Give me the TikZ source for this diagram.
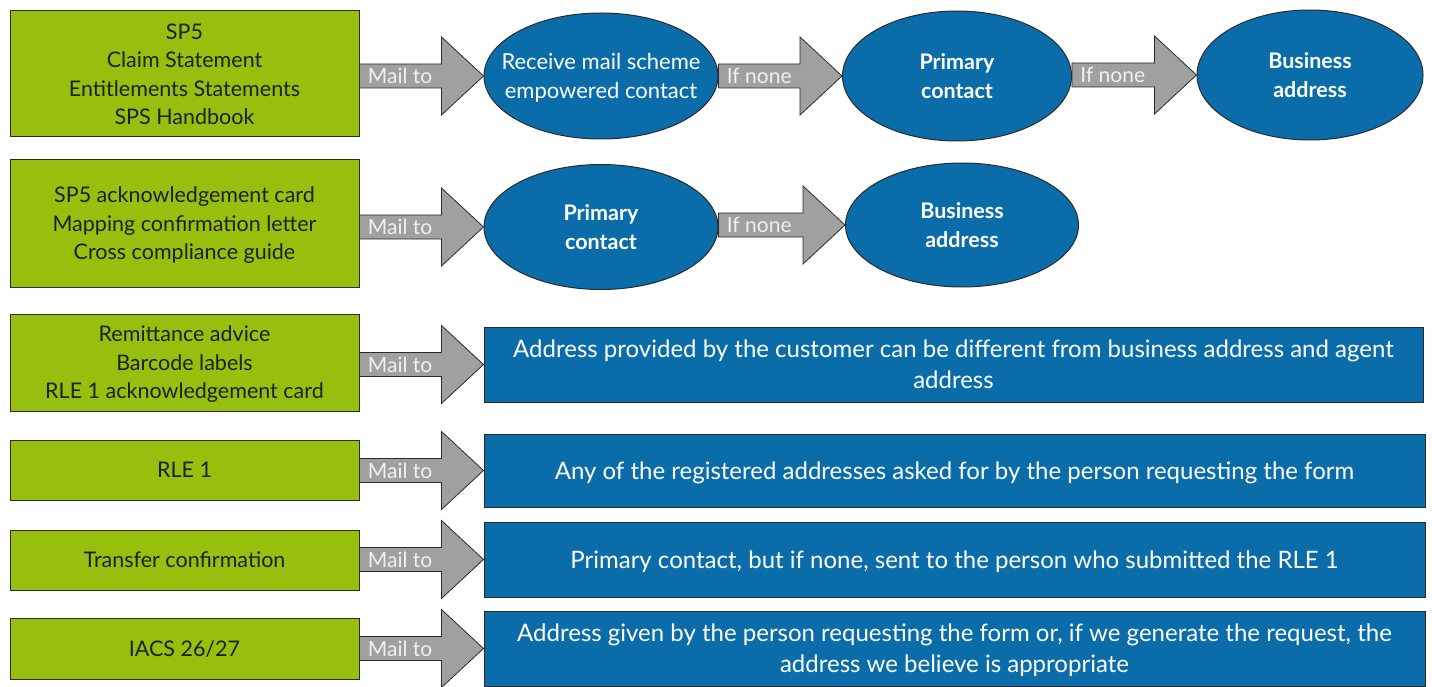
\documentclass[tikz,border=0pt]{standalone}
\usepackage{fontspec}
\setmainfont{Lato}
\usetikzlibrary{shapes.geometric,calc}
\definecolor{leaf}{HTML}{97BF0D}
\definecolor{sea}{HTML}{0A6DA9}
\definecolor{pipe}{HTML}{A0A0A1}
\definecolor{rim}{HTML}{2B2B2B}

\tikzset{
  docbox/.style={draw=rim, fill=leaf, line width=1pt, inner sep=0pt,
    minimum width=349pt, align=center, text=black!88, text depth=0pt,
    font=\fontsize{21.5}{28.5}\selectfont},
  target/.style={draw=rim, fill=sea, line width=1pt, ellipse,
    inner xsep=-20pt, inner ysep=-10pt, text depth=0pt,
    align=center, text=white, font=\fontsize{22}{29}\selectfont},
  boldtarget/.style={target, font=\bfseries\fontsize{21.5}{29}\selectfont},
  plate/.style={draw=rim, fill=sea, line width=1pt, inner sep=0pt, rectangle,
    align=center, text=white, text depth=0pt, font=\fontsize{24}{31}\selectfont},
  fat/.style={draw=rim, fill=pipe, line width=0.8pt, line join=miter},
  fatlabel/.style={anchor=west, text=white!94!black, inner sep=0pt,
    text depth=0pt, font=\fontsize{21}{24}\selectfont}
}

% block arrow from the east side of #1 to the west side of #2, labelled #3
\newcommand\fatarrow[3]{%
  \draw[fat] let \p1=(#1.east), \p2=(#2.west) in
    (\x1,\y2+12pt) -- (\x2-42pt,\y2+12pt) -- (\x2-42pt,\y2+39pt) -- (\p2)
    -- (\x2-42pt,\y2-39pt) -- (\x2-42pt,\y2-12pt) -- (\x1,\y2-12pt) -- cycle
    (\x1+8pt,\y2) node[fatlabel] {#3};
}

\begin{document}
\begin{tikzpicture}[x=1pt,y=-1pt]
\useasboundingbox[fill=white] (0,0) rectangle (1432,687);

% documents
\node[docbox, minimum height=126pt] (g1) at (184.5,74)
  {SP5\\Claim Statement\\Entitlements Statements\\SPS Handbook};
\node[docbox, minimum height=127pt] (g2) at (184.5,223.5)
  {SP5 acknowledgement card\\Mapping confirmation letter\\Cross compliance guide};
\node[docbox, minimum height=97pt] (g3) at (184.5,362.5)
  {Remittance advice\\Barcode labels\\RLE 1 acknowledgement card};
\node[docbox, minimum height=60pt] (g4) at (184.5,470) {RLE 1};
\node[docbox, minimum height=60pt] (g5) at (184.5,560) {Transfer confirmation};
\node[docbox, minimum height=61pt] (g6) at (184.5,648.5) {IACS 26/27};

% recipients, row 1
\node[target, minimum width=234pt, minimum height=126pt] (e11) at (601,76)
  {Receive mail scheme\\empowered contact};
\node[boldtarget, minimum width=229pt, minimum height=130pt] (e12) at (957,76)
  {Primary\\contact};
\node[boldtarget, minimum width=226pt, minimum height=130pt] (e13) at (1310,75)
  {Business\\address};

% recipients, row 2
\node[boldtarget, minimum width=234pt, minimum height=125pt] (e21) at (601,227)
  {Primary\\contact};
\node[boldtarget, minimum width=233pt, minimum height=124pt] (e22) at (962,225)
  {Business\\address};

% recipients, rows 3 to 6
\node[plate, minimum width=939pt, minimum height=75pt] (r3) at (953.5,364.5)
  {Address provided by the customer can be different from business address and agent\\address};
\node[plate, minimum width=941pt, minimum height=73pt] (r4) at (954.5,470.5)
  {Any of the registered addresses asked for by the person requesting the form};
\node[plate, minimum width=941pt, minimum height=75pt] (r5) at (954.5,559.5)
  {Primary contact, but if none, sent to the person who submitted the RLE 1};
\node[plate, minimum width=941pt, minimum height=75pt] (r6) at (954.5,648.5)
  {Address given by the person requesting the form or, if we generate the request, the\\address we believe is appropriate};

% arrows
\fatarrow{g1}{e11}{Mail to}
\fatarrow{e11}{e12}{If none}
\fatarrow{e12}{e13}{If none}
\fatarrow{g2}{e21}{Mail to}
\fatarrow{e21}{e22}{If none}
\fatarrow{g3}{r3}{Mail to}
\fatarrow{g4}{r4}{Mail to}
\fatarrow{g5}{r5}{Mail to}
\fatarrow{g6}{r6}{Mail to}
\end{tikzpicture}
\end{document}
